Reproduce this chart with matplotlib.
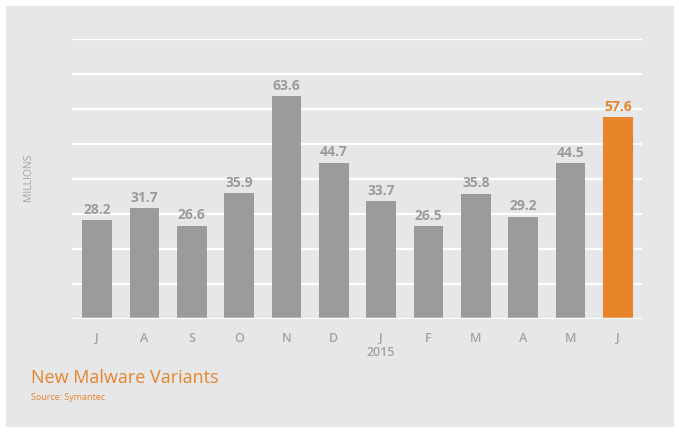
import matplotlib
matplotlib.use("Agg")
import matplotlib.pyplot as plt
from matplotlib.patches import Rectangle

months = ["J", "A", "S", "O", "N", "D", "J", "F", "M", "A", "M", "J"]
values = [28.2, 31.7, 26.6, 35.9, 63.6, 44.7, 33.7, 26.5, 35.8, 29.2, 44.5, 57.6]
year_label = "2015"
year_index = 6
highlight_index = 11

GRAY = "#9a9b9d"
ORANGE = "#e8842a"
PANEL = "#e6e7e8"
TEXT = "#a2a3a5"

plt.rcParams['font.family'] = ['Open Sans', 'DejaVu Sans']

fig = plt.figure(figsize=(6.79, 4.33), dpi=100)
fig.patch.set_facecolor("white")
fig.patches.append(Rectangle((6/679, 1 - 427/433), 668/679, 421/433,
                             transform=fig.transFigure, facecolor=PANEL,
                             edgecolor="none", zorder=-10))

ax = fig.add_axes([72/679, 1 - 319/433, 570/679, 280/433])
ax.set_facecolor("none")
ax.set_zorder(5)
colors = [ORANGE if i == highlight_index else GRAY for i in range(len(values))]
x = list(range(len(values)))
ax.bar(x, values, width=0.63, color=colors, zorder=3)
ax.set_xlim(-0.53, len(values) - 0.49)
ax.set_ylim(0, 80)
ax.set_yticks(range(10, 81, 10))
ax.yaxis.grid(True, color="white", linewidth=1.6, zorder=1)
ax.set_axisbelow(True)
ax.axhline(0, color="white", linewidth=2.5, zorder=4)
ax.tick_params(axis="y", length=0, labelleft=False)
ax.tick_params(axis="x", length=0, pad=9, labelsize=9, colors=TEXT)
ax.set_xticks(x)
ax.set_xticklabels(months, fontweight="semibold")
for s in ax.spines.values():
    s.set_visible(False)

for i, v in enumerate(values):
    ax.text(i, v + 1.0, f"{v:.1f}", ha="center", va="bottom",
            fontsize=10, fontweight="bold", color=colors[i])

ax.text(year_index, -0.095, year_label, transform=ax.get_xaxis_transform(),
        ha="center", va="top", fontsize=9, color=TEXT, fontweight="semibold")

fig.text(29/679, 1 - 177/433, "MILLIONS", rotation=90, ha="center", va="center",
         fontsize=7.5, color=TEXT)
fig.text(31/679, 1 - 378/433, "New Malware Variants", ha="left", va="center",
         fontsize=13, color=ORANGE)
fig.text(31/679, 1 - 398/433, "Source: Symantec", ha="left", va="center",
         fontsize=6.5, color=ORANGE)

fig.savefig("out.png", dpi=100, facecolor=fig.get_facecolor())
